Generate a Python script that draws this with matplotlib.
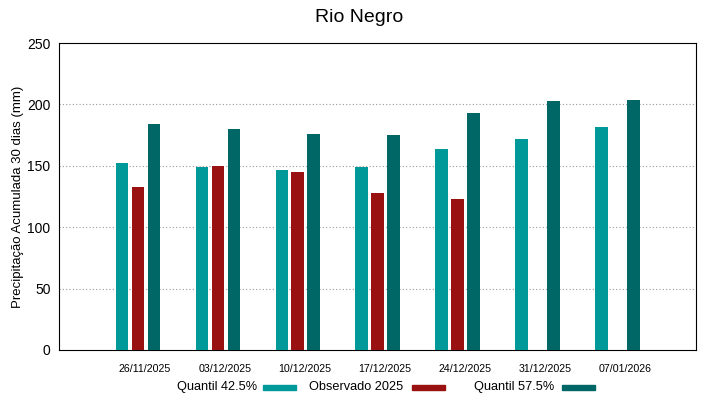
import matplotlib.pyplot as plt
import numpy as np
from matplotlib.patches import Rectangle

plt.rcParams['font.family'] = ['Liberation Sans', 'DejaVu Sans']

dates = ['26/11/2025', '03/12/2025', '10/12/2025', '17/12/2025',
         '24/12/2025', '31/12/2025', '07/01/2026']
q425 = [152, 149, 147, 149, 164, 172, 182]
observado = [133, 150, 145, 128, 123, None, None]
q575 = [184, 180, 176, 175, 193, 203, 204]

c_q425 = '#009999'
c_obs = '#991111'
c_q575 = '#006666'

fig = plt.figure(figsize=(7.19, 3.99), dpi=100)
ax = fig.add_axes([0.082, 0.123, 0.886, 0.769])

x = np.arange(len(dates))
w = 0.16
off = 0.2
shift = -0.0875  # bars sit a little left of the tick, as in gnuplot
obs_x = [xi + shift for xi, v in zip(x, observado) if v is not None]
obs_v = [v for v in observado if v is not None]
ax.bar(x + shift - off, q425, w, color=c_q425, zorder=3)
ax.bar(obs_x, obs_v, w, color=c_obs, zorder=3)
ax.bar(x + shift + off, q575, w, color=c_q575, zorder=3)

ax.set_xlim(-1.075, 6.89)
ax.set_ylim(0, 250)
ax.set_yticks([0, 50, 100, 150, 200, 250])
ax.set_xticks(x)
ax.set_xticklabels(dates, fontsize=7.7)
ax.tick_params(axis='y', labelsize=10, direction='in', length=0, pad=6)
ax.tick_params(axis='x', direction='in', length=0, pad=10)
for yv in [50, 100, 150, 200]:
    ax.axhline(yv, color='#999999', linestyle=(0, (1, 2)), linewidth=0.8, zorder=1)
ax.set_ylabel('Precipitação Acumulada 30 dias (mm)', fontsize=9.5, labelpad=2)
for s in ax.spines.values():
    s.set_linewidth(0.8)

fig.text(0.5, 0.955, 'Rio Negro', ha='center', va='center', fontsize=14)

# gnuplot-style legend: label then colour swatch
W, H = 719, 399
legend = [('Quantil 42.5%', 257, 263, c_q425),
          ('Observado 2025', 403, 412, c_obs),
          ('Quantil 57.5%', 554, 562, c_q575)]
ly = 387
for label, tx, sx, col in legend:
    fig.text(tx / W, 1 - ly / H, label, ha='right', va='center', fontsize=9.2)
    fig.patches.append(Rectangle((sx / W, 1 - (ly + 2.5) / H), 33 / W, 5 / H,
                                 transform=fig.transFigure, color=col))

fig.savefig('out.png', dpi=100)
